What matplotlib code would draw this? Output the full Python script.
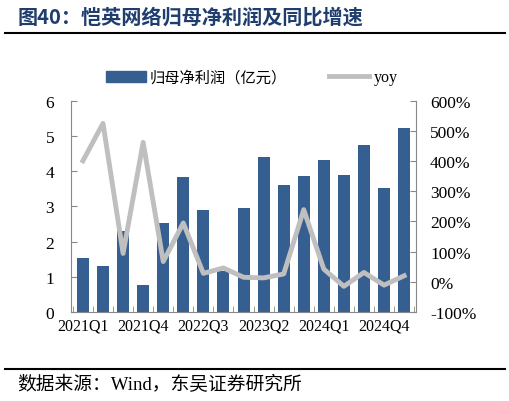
import matplotlib.pyplot as plt
import numpy as np
from matplotlib.lines import Line2D
from matplotlib.patches import Patch

quarters = ["2021Q1", "2021Q2", "2021Q3", "2021Q4",
            "2022Q1", "2022Q2", "2022Q3", "2022Q4",
            "2023Q1", "2023Q2", "2023Q3", "2023Q4",
            "2024Q1", "2024Q2", "2024Q3", "2024Q4", "2025Q1"]
profit = [1.53, 1.32, 2.29, 0.78, 2.52, 3.83, 2.91, 1.16, 2.95,
          4.39, 3.62, 3.85, 4.31, 3.88, 4.75, 3.53, 5.23]
yoy = [401, 525, 94, 462, 67, 195, 28, 46, 15, 13, 26, 239, 42, -15, 31, -11, 20]

BAR = "#365F91"
GREY = "#BFBFBF"
AX = "#898989"
SERIF = ["Liberation Serif", "Noto Sans CJK SC"]
CJK = ["Noto Sans CJK SC", "DejaVu Sans"]

fig = plt.figure(figsize=(5.1, 4.02), dpi=100)
ax = fig.add_axes([0.139, 0.2214, 0.677, 0.5256])
ax2 = ax.twinx()

x = np.arange(len(quarters))
ax.bar(x, profit, width=0.6, color=BAR, zorder=2)
ax2.plot(x, yoy, color=GREY, linewidth=3.5, zorder=3)

ax.set_xlim(-0.6, len(quarters) - 0.4)
ax.set_ylim(0, 6)
ax2.set_ylim(-100, 600)
ax.set_yticks(range(0, 7))
ax2.set_yticks(range(-100, 700, 100))
ax2.set_yticklabels([f"{v}%" for v in range(-100, 700, 100)])
ax.set_xticks(x[::3])
ax.set_xticklabels(quarters[::3])
ax.set_xticks(np.arange(-0.5, len(quarters), 1), minor=True)

for a in (ax, ax2):
    for s in a.spines.values():
        s.set_visible(False)
ax.spines["left"].set_visible(True)
ax.spines["bottom"].set_visible(True)
ax2.spines["right"].set_visible(True)
for s in (ax.spines["left"], ax.spines["bottom"], ax2.spines["right"]):
    s.set_color(AX)
    s.set_linewidth(0.8)

ax.tick_params(axis="y", direction="in", length=4, color=AX, labelsize=12.5, pad=12)
ax2.tick_params(axis="y", direction="in", length=4, color=AX, labelsize=12.5, pad=10)
ax.tick_params(axis="x", which="major", length=0, labelsize=11.5, pad=4)
ax.tick_params(axis="x", which="minor", direction="in", length=4, color=AX)
for lbl in ax.get_yticklabels() + ax2.get_yticklabels() + ax.get_xticklabels():
    lbl.set_family(SERIF)

# legend
handles = [Patch(color=BAR), Line2D([0], [0], color=GREY, linewidth=3.5)]
leg = fig.legend(handles, ["归母净利润（亿元）", "yoy"], loc="center",
                 bbox_to_anchor=(0.493, 0.806), ncol=2, frameon=False,
                 handlelength=2.9, handleheight=0.9, columnspacing=3.0,
                 handletextpad=0.3)
leg.get_texts()[0].set_family(CJK)
leg.get_texts()[0].set_fontsize(11)
leg.get_texts()[0].set_fontweight("light")
leg.get_texts()[1].set_family(SERIF)
leg.get_texts()[1].set_fontsize(11.5)

# title and source
fig.text(0.035, 0.958, "图40：恺英网络归母净利润及同比增速", family=CJK,
         fontsize=14.5, fontweight="bold", color="#1F3E6E", va="center")
fig.add_artist(Line2D([0.01, 0.99], [0.915, 0.915], color="black", linewidth=1.5))
fig.add_artist(Line2D([0.01, 0.99], [0.08, 0.08], color="black", linewidth=1.5))
fig.text(0.033, 0.042, "数据来源：Wind，东吴证券研究所", family=SERIF,
         fontsize=13.5, va="center")

fig.savefig("out.png", dpi=100)
